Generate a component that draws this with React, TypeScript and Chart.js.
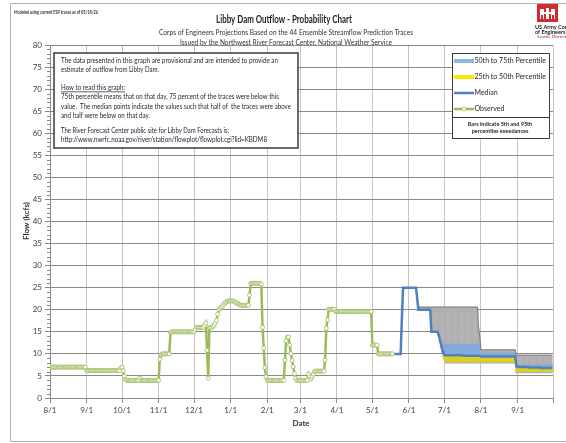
import React, { useEffect, useRef } from "react";
import { Chart, registerables } from "chart.js";

Chart.register(...registerables);

// ---------- axis ticks (days counted from 8/1) ----------
const monthTickDays = [0, 31, 61, 92, 122, 153, 184, 212, 243, 273, 304, 334, 365, 396, 426];
const monthTickLabels = ["8/1", "9/1", "10/1", "11/1", "12/1", "1/1", "2/1", "3/1", "4/1", "5/1", "6/1", "7/1", "8/1", "9/1", ""];
const yMin = 0;
const yMax = 80;
const yStep = 5;

// ---------- observed daily outflow (kcfs), day 0 = 8/1 ----------
const observedStartDay = 0;
const observed = [
  // Aug
  7, 7, 7, 7, 7, 7, 7, 7, 7, 7, 7, 7, 7, 7, 7, 7, 7, 7, 7, 7, 7, 7, 7, 7, 7, 7, 7, 7, 7, 7, 7,
  // Sep
  6.2, 6.2, 6.2, 6.2, 6.2, 6.2, 6.2, 6.2, 6.2, 6.2, 6.2, 6.2, 6.2, 6.2, 6.2, 6.2, 6.2, 6.2, 6.2, 6.2,
  6.2, 6.2, 6.2, 6.2, 6.2, 6.2, 6.2, 6.2, 6.2, 6.8,
  // Oct
  7.0, 6.2, 5.0, 4.2, 4, 4, 4, 4, 4, 4, 4, 4, 4, 4, 4, 4.5, 4, 4, 4, 4, 4, 4, 4, 4, 4, 4, 4, 4, 4, 4, 4,
  // Nov
  4.0, 8.8, 9.8, 10, 10, 10, 10, 10, 10, 10, 14.8, 15, 15, 15, 15, 15, 15, 15, 15, 15, 15, 15, 15, 15, 15, 15, 15, 15, 15, 15,
  // Dec
  15.0, 15.5, 16, 16, 16, 16, 16, 16, 16, 16.5, 17.0, 10.8, 4.5, 15.9, 16.0, 16.0, 16.2, 16.5, 17.0, 17.6,
  19.0, 20.0, 20.3, 20.6, 20.8, 21.2, 21.5, 21.7, 21.9, 22.0, 22.0,
  // Jan
  22, 22, 22, 21.9, 21.7, 21.5, 21.4, 21.2, 21.1, 21, 21, 21, 21, 21, 21, 21, 23.3,
  26, 26, 26, 26, 26, 26, 26, 26, 26, 25.8, 16.0, 11.3, 6.9, 4.8,
  // Feb
  4, 4, 4, 4, 4, 4, 4, 4, 4, 4, 4, 4, 4, 4, 4, 8.6, 13.0, 13.8, 13.8, 12.0, 10.1, 8.5, 7.1, 5.5, 4.5, 4, 4, 4,
  // Mar
  4, 4, 4, 4, 4, 4, 4, 5.4, 4.8, 4.3, 4.8, 5.4, 6.0, 6.1, 6.1, 6.1, 6.1, 6.1, 6.1, 6.1, 6.1,
  8.6, 15.8, 17.7, 20.1, 20.1, 20.1, 20.1, 20.1, 20.1, 19.6,
  // Apr
  19.6, 19.6, 19.6, 19.6, 19.6, 19.6, 19.6, 19.6, 19.6, 19.6, 19.6, 19.6, 19.6, 19.6, 19.6,
  19.6, 19.6, 19.6, 19.6, 19.6, 19.6, 19.6, 19.6, 19.6, 19.6, 19.6, 19.6, 19.6, 19.6, 19.6,
  // May 1 - May 18
  12, 12, 12, 12, 12, 10, 10, 10, 10, 10, 10, 10, 10, 10, 10, 10, 10, 10,
];

// ---------- forecast median (kcfs), starting 5/18 ----------
const forecastStartDay = 290;
const median = [
  10, 10, 10, 10, 10, 10, 10, 10, 18,
  25, 25, 25, 25, 25, 25, 25, 25, 25, 25, 25, 25, 22.5,
  20, 20, 20, 20, 20, 20, 20, 20, 20, 20, 20,
  15, 15, 15, 15, 15, 15, 14.5, 13.5, 12.3, 11.2, 10.3, 9.8,
  9.7, 9.7, 9.7, 9.7, 9.7, 9.7, 9.7, 9.7, 9.7, 9.7, 9.7, 9.7, 9.7, 9.7, 9.7,
  9.6, 9.6, 9.6, 9.6, 9.6, 9.6, 9.6, 9.6, 9.6, 9.6, 9.6, 9.6, 9.6, 9.6, 9.6,
  9.4, 9.4, 9.4, 9.4, 9.4, 9.4, 9.4, 9.4, 9.4, 9.4, 9.4, 9.4, 9.4, 9.4, 9.4,
  9.4, 9.4, 9.4, 9.4, 9.4, 9.4, 9.4, 9.4, 9.4, 9.4, 9.4, 9.4, 9.4, 9.4, 9.4,
  7.2,
  7.0, 7.0, 7.0, 7.0, 7.0, 7.0, 7.0, 7.0, 7.0, 7.0,
  6.9, 6.9, 6.9, 6.9, 6.9, 6.9, 6.9, 6.9, 6.9, 6.9,
  6.8, 6.8, 6.8, 6.8, 6.8, 6.8, 6.8, 6.8, 6.8, 6.8,
];

// ---------- forecast percentiles (kcfs), starting 6/12 ----------
const spreadStartDay = 312;
const p95 = [
  20.6, 20.6, 20.6, 20.6, 20.6, 20.6, 20.6, 20.6, 20.6, 20.6, 20.6, 20.6, 20.6, 20.6, 20.6, 20.6, 20.6,
  20.6, 20.6, 20.6, 20.6, 20.6, 20.6, 20.6, 20.6, 20.6, 20.6, 20.6, 20.6, 20.6, 20.6, 20.6, 20.6, 20.6,
  20.6, 20.6, 20.6, 20.6, 20.6, 20.6, 20.6, 20.6, 20.6, 20.6, 20.6, 20.6, 20.6, 20.6, 20.6, 20.6, 20.6,
  15.8, 13.8,
  10.9, 10.9, 10.9, 10.9, 10.9, 10.9, 10.9, 10.9, 10.9, 10.9, 10.9, 10.9, 10.9, 10.9, 10.9,
  10.9, 10.9, 10.9, 10.9, 10.9, 10.9, 10.9, 10.9, 10.9, 10.9, 10.9, 10.9, 10.9, 10.9, 10.9,
  9.7, 9.7, 9.7, 9.7, 9.7, 9.7, 9.7, 9.7, 9.7, 9.7, 9.7, 9.7, 9.7, 9.7, 9.7, 9.7,
  9.7, 9.7, 9.7, 9.7, 9.7, 9.7, 9.7, 9.7, 9.7, 9.7, 9.7, 9.7, 9.7, 9.7, 9.7,
];
const p75 = [
  20, 20, 20, 20, 20, 20, 20, 20, 20, 20, 20,
  15, 15, 15, 15, 15, 15, 14.5, 13.5, 12.5,
  12.2, 12.2, 12.2, 12.2, 12.2, 12.2, 12.2, 12.2, 12.2, 12.2, 12.2, 12.2, 12.2, 12.2, 12.2, 12.2, 12.2,
  12.2, 12.2, 12.2, 12.2, 12.2, 12.2, 12.2, 12.2, 12.2, 12.2, 12.2, 12.2, 12.2, 12.2, 12.2, 12.2,
  10.2, 10.2, 10.2, 10.2, 10.2, 10.2, 10.2, 10.2, 10.2, 10.2, 10.2, 10.2, 10.2, 10.2, 10.2,
  10.2, 10.2, 10.2, 10.2, 10.2, 10.2, 10.2, 10.2, 10.2, 10.2, 10.2, 10.2, 10.2, 10.2, 10.2,
  7.5, 7.5, 7.5, 7.5, 7.5, 7.5, 7.5, 7.5, 7.5, 7.5, 7.5, 7.5, 7.5, 7.5, 7.5, 7.5,
  7.5, 7.5, 7.5, 7.5, 7.5, 7.5, 7.5, 7.5, 7.5, 7.5, 7.5, 7.5, 7.5, 7.5, 7.5,
];
const p25 = [
  20, 20, 20, 20, 20, 20, 20, 20, 20, 20, 20,
  15, 15, 15, 15, 15, 15, 14.5, 13.5, 12.3, 11.2, 10.3, 8.8,
  8.2, 8.2, 8.2, 8.2, 8.2, 8.2, 8.2, 8.2, 8.2, 8.2, 8.2, 8.2, 8.2, 8.2, 8.2,
  8.2, 8.2, 8.2, 8.2, 8.2, 8.2, 8.2, 8.2, 8.2, 8.2, 8.2, 8.2, 8.2, 8.2, 8.2,
  8.2, 8.2, 8.2, 8.2, 8.2, 8.2, 8.2, 8.2, 8.2, 8.2, 8.2, 8.2, 8.2, 8.2, 8.2,
  8.2, 8.2, 8.2, 8.2, 8.2, 8.2, 8.2, 8.2, 8.2, 8.2, 8.2, 8.2, 8.2, 8.2, 8.2,
  6.0, 6.0, 6.0, 6.0, 6.0, 6.0, 6.0, 6.0, 6.0, 6.0, 6.0, 6.0, 6.0, 6.0, 6.0, 6.0,
  6.0, 6.0, 6.0, 6.0, 6.0, 6.0, 6.0, 6.0, 6.0, 6.0, 6.0, 6.0, 6.0, 6.0, 6.0,
];
const p5 = [
  20, 20, 20, 20, 20, 20, 20, 20, 20, 20, 20,
  15, 15, 15, 15, 15, 15, 14.0, 12.8, 11.5, 10.3, 9.3, 8.5,
  7.9, 7.9, 7.9, 7.9, 7.9, 7.9, 7.9, 7.9, 7.9, 7.9, 7.9, 7.9, 7.9, 7.9, 7.9,
  7.9, 7.9, 7.9, 7.9, 7.9, 7.9, 7.9, 7.9, 7.9, 7.9, 7.9, 7.9, 7.9, 7.9, 7.9,
  7.9, 7.9, 7.9, 7.9, 7.9, 7.9, 7.9, 7.9, 7.9, 7.9, 7.9, 7.9, 7.9, 7.9, 7.9,
  7.9, 7.9, 7.9, 7.9, 7.9, 7.9, 7.9, 7.9, 7.9, 7.9, 7.9, 7.9, 7.9, 7.9, 7.9,
  5.7, 5.7, 5.7, 5.7, 5.7, 5.7, 5.7, 5.7, 5.7, 5.7, 5.7, 5.7, 5.7, 5.7, 5.7, 5.7,
  5.7, 5.7, 5.7, 5.7, 5.7, 5.7, 5.7, 5.7, 5.7, 5.7, 5.7, 5.7, 5.7, 5.7, 5.7,
];

// ---------- texts ----------
const topNote = "Modeled using current ESP traces as of 05/18/26";
const titleText = "Libby Dam Outflow - Probability Chart";
const subtitle1 = "Corps of Engineers Projections Based on the 44 Ensemble Streamflow Prediction Traces";
const subtitle2 = "Issued by the Northwest River Forecast Center, National Weather Service";
const yTitle = "Flow (kcfs)";
const xTitle = "Date";
const infoLines = [
  "The data presented in this graph are provisional and are intended to provide an",
  "estimate of outflow from Libby Dam.",
  "How to read this graph:",
  "75th percentile means that on that day, 75 percent of the traces were below this",
  "value.  The median points indicate the values such that half of  the traces were above",
  "and half were below on that day.",
  "The River Forecast Center public site for Libby Dam Forecasts is:",
  "http://www.nwrfc.noaa.gov/river/station/flowplot/flowplot.cgi?lid=KBDM8",
];
const legendLabels = ["50th to 75th Percentile", "25th to 50th Percentile", "Median", "Observed"];
const legendNote = ["Bars indicate 5th and 95th", "percentiles exeedances"];

// ---------- colours ----------
const C_OBS = "#9bbb59";
const C_MED = "#4f81bd";
const C_BLUE = "#86a9da";
const C_YEL = "#ddd01e";
const C_GRAY = "#b0b0b0";
const C_HGRID = "#8a8a8a";
const C_VGRID = "#c4c4c4";
const FONT = "Lato, 'Open Sans', sans-serif";

function medianAt(day: number) {
  return median[day - forecastStartDay];
}

function txt(ctx: CanvasRenderingContext2D, s: string, x: number, y: number, font: string, color: string, align: CanvasTextAlign = "left", maxW?: number) {
  ctx.font = font;
  ctx.fillStyle = color;
  ctx.textAlign = align;
  ctx.textBaseline = "middle";
  if (maxW) ctx.fillText(s, x, y, maxW);
  else ctx.fillText(s, x, y);
}

const overlayPlugin = {
  id: "overlay",
  beforeDraw(chart: any) {
    const ctx = chart.ctx as CanvasRenderingContext2D;
    ctx.save();
    ctx.fillStyle = "#ffffff";
    ctx.fillRect(0, 0, chart.width, chart.height);
    ctx.restore();
  },
  afterDraw(chart: any) {
    const ctx = chart.ctx as CanvasRenderingContext2D;
    const { left } = chart.chartArea;
    const ys = chart.scales.y;
    ctx.save();

    // minor y ticks
    ctx.strokeStyle = C_HGRID;
    ctx.lineWidth = 1;
    for (let v = yMin; v <= yMax; v++) {
      if (v % yStep === 0) continue;
      const y = Math.round(ys.getPixelForValue(v)) + 0.5;
      ctx.beginPath();
      ctx.moveTo(left - 3, y);
      ctx.lineTo(left, y);
      ctx.stroke();
    }

    // outer frame
    ctx.strokeStyle = "#b0b0b0";
    ctx.lineWidth = 1;
    ctx.beginPath();
    ctx.moveTo(566, 3.5);
    ctx.lineTo(10.5, 3.5);
    ctx.lineTo(10.5, 441.5);
    ctx.lineTo(566, 441.5);
    ctx.stroke();

    // header texts
    txt(ctx, topNote, 14, 12, `bold 5.5px ${FONT}`, "#333333", "left", 84);
    txt(ctx, titleText, 284, 19, `bold 11px ${FONT}`, "#262626", "center", 136);
    txt(ctx, subtitle1, 286, 32, `8px ${FONT}`, "#333333", "center", 254);
    txt(ctx, subtitle2, 286, 42, `8px ${FONT}`, "#333333", "center", 212);

    // logo
    ctx.fillStyle = "#d42a2f";
    ctx.fillRect(537, 4, 21, 18);
    ctx.fillStyle = "#ffffff";
    ctx.fillRect(540, 9, 4, 10);
    ctx.fillRect(551, 9, 4, 10);
    ctx.fillRect(544, 12, 7, 2);
    ctx.fillRect(546, 8, 3, 11);
    ctx.fillStyle = "#d42a2f";
    ctx.fillRect(541, 15, 2, 4);
    ctx.fillRect(552, 15, 2, 4);
    txt(ctx, "US Army Corps", 535, 27, `bold 5.5px ${FONT}`, "#222222");
    txt(ctx, "of Engineers \u00AE", 535, 32, `bold 5.5px ${FONT}`, "#222222");
    txt(ctx, "Seattle District", 537, 37, `4.5px ${FONT}`, "#a03030");

    // axis titles
    ctx.save();
    ctx.translate(26, 221);
    ctx.rotate(-Math.PI / 2);
    txt(ctx, yTitle, 0, 0, `bold 8px ${FONT}`, "#333333", "center");
    ctx.restore();
    txt(ctx, xTitle, 301, 423, `bold 8px ${FONT}`, "#333333", "center");

    // info box
    ctx.fillStyle = "#ffffff";
    ctx.fillRect(54, 53, 244, 95);
    ctx.strokeStyle = "#3a3a3a";
    ctx.lineWidth = 1.5;
    ctx.strokeRect(54, 53, 244, 95);
    const infoY = [60.5, 70, 88, 97, 106.3, 115.5, 131, 140];
    const infoW = [217, 98, 64, 218, 230, 89, 168, 206];
    infoLines.forEach((s, i) => {
      txt(ctx, s, 61, infoY[i], `7px ${FONT}`, "#1e1e2e", "left", infoW[i]);
    });
    ctx.strokeStyle = "#1e1e2e";
    ctx.lineWidth = 0.7;
    ctx.beginPath();
    ctx.moveTo(61, 91.8);
    ctx.lineTo(61 + infoW[2], 91.8);
    ctx.stroke();

    // legend box
    ctx.fillStyle = "#ffffff";
    ctx.fillRect(452, 53, 97, 85);
    ctx.strokeStyle = "#3a3a3a";
    ctx.lineWidth = 1;
    ctx.strokeRect(452.5, 53.5, 97, 85);
    ctx.beginPath();
    ctx.moveTo(452.5, 117.5);
    ctx.lineTo(549.5, 117.5);
    ctx.stroke();
    const ly = [61, 77, 93, 109];
    ctx.fillStyle = "#8db4e2";
    ctx.fillRect(454, 59, 20, 4);
    ctx.fillStyle = "#f5ea00";
    ctx.fillRect(454, 75, 20, 4);
    ctx.strokeStyle = C_MED;
    ctx.lineWidth = 2.5;
    ctx.beginPath();
    ctx.moveTo(454, ly[2]);
    ctx.lineTo(474, ly[2]);
    ctx.stroke();
    ctx.strokeStyle = C_OBS;
    ctx.beginPath();
    ctx.moveTo(454, ly[3]);
    ctx.lineTo(474, ly[3]);
    ctx.stroke();
    ctx.fillStyle = "#ffffff";
    ctx.lineWidth = 0.8;
    ctx.beginPath();
    ctx.arc(464, ly[3], 2, 0, Math.PI * 2);
    ctx.fill();
    ctx.stroke();
    legendLabels.forEach((s, i) => {
      txt(ctx, s, 474.5, ly[i], `7px ${FONT}`, "#262626", "left", i < 2 ? 72 : undefined);
    });
    txt(ctx, legendNote[0], 500, 124.5, `bold 5.5px ${FONT}`, "#262626", "center");
    txt(ctx, legendNote[1], 500, 131.5, `bold 5.5px ${FONT}`, "#262626", "center");

    ctx.restore();
  },
};

export default function App() {
  const canvasRef = useRef<HTMLCanvasElement | null>(null);

  useEffect(() => {
    document.body.style.margin = "0";
    const canvas = canvasRef.current;
    if (!canvas) return;

    const obsData = observed.map((v, i) => ({ x: observedStartDay + i, y: v }));
    const medData = median.map((v, i) => ({ x: forecastStartDay + i, y: v }));
    const grayData: any[] = [];
    const blueData: any[] = [];
    const yelData: any[] = [];
    const capData: any[] = [];
    p95.forEach((hi, i) => {
      const day = spreadStartDay + i;
      const m = medianAt(day);
      if (hi > p5[i]) grayData.push({ x: day, y: [p5[i], hi] });
      capData.push({ x: day, y: hi });
      if (p75[i] > m) blueData.push({ x: day, y: [m, p75[i]] });
      if (m > p25[i]) yelData.push({ x: day, y: [p25[i], m] });
    });

    const chart = new Chart(canvas, {
      type: "line",
      data: {
        datasets: [
          {
            type: "line",
            label: "Observed",
            data: obsData,
            borderColor: C_OBS,
            borderWidth: 2.5,
            pointRadius: 2,
            pointBorderWidth: 0.8,
            pointBackgroundColor: "#ffffff",
            pointBorderColor: C_OBS,
            tension: 0,
            order: 1,
          },
          {
            type: "line",
            label: "Median",
            data: medData,
            borderColor: C_MED,
            borderWidth: 2.5,
            pointRadius: 0,
            tension: 0,
            order: 2,
          },
          {
            type: "line",
            label: "95th cap",
            data: capData,
            borderColor: "#7a7a7a",
            borderWidth: 1,
            pointRadius: 0,
            tension: 0,
            order: 3,
          },
          {
            type: "bar",
            label: "50th to 75th Percentile",
            data: blueData,
            backgroundColor: C_BLUE,
            borderWidth: 0,
            barThickness: 1.5,
            grouped: false,
            order: 4,
          } as any,
          {
            type: "bar",
            label: "25th to 50th Percentile",
            data: yelData,
            backgroundColor: C_YEL,
            borderWidth: 0,
            barThickness: 1.5,
            grouped: false,
            order: 4,
          } as any,
          {
            type: "bar",
            label: "5th-95th",
            data: grayData,
            backgroundColor: C_GRAY,
            borderWidth: 0,
            barThickness: 1,
            grouped: false,
            order: 6,
          } as any,
        ],
      },
      options: {
        responsive: false,
        devicePixelRatio: 1,
        animation: false,
        events: [],
        layout: { padding: { left: 0, right: 13, top: 45, bottom: 0 } },
        plugins: {
          legend: { display: false },
          tooltip: { enabled: false },
          title: { display: false },
        },
        scales: {
          x: {
            type: "linear",
            min: monthTickDays[0],
            max: monthTickDays[monthTickDays.length - 1],
            offset: false,
            afterBuildTicks: (s: any) => {
              s.ticks = monthTickDays.map((v) => ({ value: v }));
            },
            afterFit: (s: any) => {
              s.height = 45;
            },
            ticks: {
              autoSkip: false,
              maxRotation: 0,
              padding: 3,
              color: "#404040",
              font: { family: FONT, size: 8 },
              callback: (v: any) => {
                const i = monthTickDays.indexOf(Number(v));
                return i >= 0 ? monthTickLabels[i] : "";
              },
            },
            grid: { color: C_VGRID, tickColor: C_HGRID, tickLength: 5, offset: false },
            border: { color: C_HGRID },
          },
          y: {
            min: yMin,
            max: yMax,
            afterFit: (s: any) => {
              s.width = 50;
            },
            ticks: {
              stepSize: yStep,
              padding: 3,
              color: "#404040",
              font: { family: FONT, size: 8 },
            },
            grid: { color: C_HGRID, tickColor: C_HGRID, tickLength: 5 },
            border: { color: C_HGRID },
          },
        },
      },
      plugins: [overlayPlugin],
    } as any);

    return () => chart.destroy();
  }, []);

  return (
    <div style={{ position: "fixed", left: 0, top: 0, width: 566, height: 443 }}>
      <canvas ref={canvasRef} width={566} height={443} style={{ width: 566, height: 443, display: "block" }} />
    </div>
  );
}
